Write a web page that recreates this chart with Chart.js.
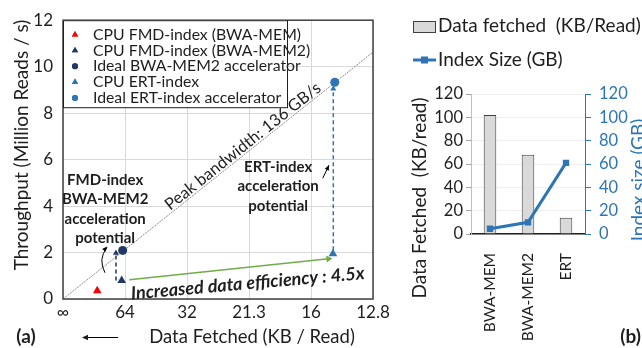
<!DOCTYPE html>
<html>
<head>
<meta charset="utf-8">
<script src="https://cdn.jsdelivr.net/npm/chart.js@4.4.1/dist/chart.umd.min.js"></script>
<style>
html, body { margin: 0; padding: 0; background: #fff; overflow: hidden; width: 642px; height: 348px; }
#wrapA { position: absolute; left: 0; top: 0; width: 400px; height: 348px; }
#wrapB { position: absolute; left: 400px; top: 0; width: 260px; height: 348px; }
</style>
</head>
<body>
<div id="wrapA"><canvas id="chartA"></canvas></div>
<div id="wrapB"><canvas id="chartB"></canvas></div>
<script>
const FONT = 'Lato, "Open Sans", sans-serif';
const TEXT = '#1e1e1e';
const BLUE = '#2E75B6';
const NAVY = '#1F3864';

// ---- panel (a) data ----
const xTickLabels = ['∞', '64', '32', '21.3', '16', '12.8'];   // KB / read, axis is 64/KB
const pointLabels = ['CPU FMD-index (BWA-MEM)', 'CPU FMD-index (BWA-MEM2)', 'Ideal BWA-MEM2 accelerator', 'CPU ERT-index', 'Ideal ERT-index accelerator'];
const pointKB = [116, 67.6, 66.5, 14.7, 14.6];
const pointThroughput = [0.35, 0.8, 2.09, 1.95, 9.33];
const pointColors = ['#FF0000', NAVY, NAVY, BLUE, BLUE];
const pointShapes = ['triangle', 'triangle', 'circle', 'triangle', 'circle'];

const peakKB = [Infinity, 12.8];
const peakThroughput = [0, 10.625];
const fmdArrowKB = [74.9, 74.9];
const fmdArrowThroughput = [0.8, 1.98];
const ertArrowKB = [14.68, 14.68];
const ertArrowThroughput = [2.1, 9.05];
const effArrowKB = [59.8, 14.95];
const effArrowThroughput = [0.83, 1.73];

// ---- panel (b) data ----
const bCategories = ['BWA-MEM', 'BWA-MEM2', 'ERT'];
const bFetched = [102, 68, 14];
const bIndexSize = [4.5, 10, 61];

const kbToX = kb => 64 / kb;
const toPoints = (kbs, ys) => kbs.map((kb, i) => ({ x: kbToX(kb), y: ys[i] }));

function arrowHead(ctx, x, y, angle, size) {
  ctx.save();
  ctx.translate(x, y);
  ctx.rotate(angle);
  ctx.beginPath();
  ctx.moveTo(0, 0);
  ctx.lineTo(-size, -size * 0.45);
  ctx.lineTo(-size, size * 0.45);
  ctx.closePath();
  ctx.fill();
  ctx.restore();
}

const panelA = {
  id: 'panelA',
  afterDatasetsDraw(chart) {
    const { ctx, chartArea: a, scales: { x, y } } = chart;
    const px = v => x.getPixelForValue(v);
    const py = v => y.getPixelForValue(v);
    ctx.save();

    // frame
    ctx.strokeStyle = '#404040';
    ctx.lineWidth = 1.5;
    ctx.strokeRect(a.left, a.top, a.right - a.left, a.bottom - a.top);

    // legend
    const lw = 224, lh = 87;
    ctx.fillStyle = '#fff';
    ctx.fillRect(a.left, a.top, lw, lh);
    ctx.strokeStyle = '#1e1e1e';
    ctx.lineWidth = 1;
    ctx.strokeRect(a.left + 0.5, a.top + 0.5, lw, lh);
    ctx.font = '15.8px ' + FONT;
    ctx.textBaseline = 'middle';
    ctx.textAlign = 'left';
    pointLabels.forEach((label, i) => {
      const ly = a.top + 14.5 + i * 15.8;
      ctx.fillStyle = pointColors[i];
      Chart.helpers.drawPoint(ctx, { pointStyle: pointShapes[i], radius: pointShapes[i] === 'circle' ? 3 : 3.6, borderWidth: 0 }, a.left + 12, ly);
      ctx.fill();
      ctx.fillStyle = TEXT;
      ctx.fillText(label, a.left + 30, ly);
    });

    // peak bandwidth label along the line
    const ang = Math.atan2(py(peakThroughput[1]) - py(0), px(kbToX(peakKB[1])) - px(0));
    ctx.save();
    ctx.translate(px(2.9), py(6.57));
    ctx.rotate(ang);
    ctx.font = '16.5px ' + FONT;
    ctx.textAlign = 'center';
    ctx.fillStyle = TEXT;
    ctx.fillText('Peak bandwidth: 136 GB/s', 0, 0);
    ctx.restore();

    // bold notes
    ctx.font = 'bold 15px ' + FONT;
    ctx.textAlign = 'center';
    ctx.fillStyle = TEXT;
    ['FMD-index', 'BWA-MEM2', 'acceleration', 'potential'].forEach((t, i) => {
      ctx.fillText(t, px(0.68), py(5.2) + 2 + i * 19.3);
    });
    ['ERT-index', 'acceleration', 'potential'].forEach((t, i) => {
      ctx.fillText(t, px(3.47), py(5.72) + 1 + i * 19.5);
    });

    ctx.save();
    ctx.translate(px(2.98), py(0.67));
    ctx.rotate(-5 * Math.PI / 180);
    ctx.font = 'italic bold 18px ' + FONT;
    ctx.fillText('Increased data efficiency : 4.5x', 0, 0);
    ctx.restore();

    // small black arrows
    ctx.strokeStyle = '#000';
    ctx.fillStyle = '#000';
    ctx.lineWidth = 1;
    const c0 = [px(0.677), py(1.13)], c1 = [px(0.56), py(1.72)], c2 = [px(0.71), py(2.22)];
    ctx.beginPath();
    ctx.moveTo(c0[0], c0[1]);
    ctx.quadraticCurveTo(c1[0], c1[1], c2[0], c2[1]);
    ctx.stroke();
    arrowHead(ctx, c2[0], c2[1] - 1, Math.atan2(c2[1] - c1[1], c2[0] - c1[0]), 5);
    const e0 = [px(4.19), py(5.2)], e1 = [px(4.29), py(5.76)];
    ctx.beginPath();
    ctx.moveTo(e0[0], e0[1]);
    ctx.lineTo(e1[0], e1[1]);
    ctx.stroke();
    arrowHead(ctx, e1[0], e1[1], Math.atan2(e1[1] - e0[1], e1[0] - e0[0]), 5);

    // axis titles and panel tag
    ctx.fillStyle = TEXT;
    ctx.font = '19px ' + FONT;
    ctx.save();
    ctx.translate(22, 145);
    ctx.rotate(-Math.PI / 2);
    ctx.fillText('Throughput (Million Reads / s)', 0, 0);
    ctx.restore();
    ctx.font = '18.5px ' + FONT;
    ctx.fillText('Data Fetched (KB / Read)', 252, 337);
    ctx.font = 'bold 19px ' + FONT;
    ctx.fillText('(a)', 26, 337);
    ctx.beginPath();
    ctx.moveTo(118, 337.5);
    ctx.lineTo(86, 337.5);
    ctx.stroke();
    arrowHead(ctx, 82, 337.5, Math.PI, 6);
    ctx.restore();
  }
};

const pointDatasets = pointLabels.map((label, i) => ({
  label,
  data: [{ x: kbToX(pointKB[i]), y: pointThroughput[i] }],
  pointStyle: pointShapes[i],
  pointRadius: pointShapes[i] === 'circle' ? 4.5 : 5,
  pointBackgroundColor: pointColors[i],
  pointBorderWidth: 0,
  showLine: false
}));

const lineDataset = (data, color, width, dash, extra) => Object.assign({
  data, showLine: true, borderColor: color, borderWidth: width, borderDash: dash,
  pointRadius: 0, pointBackgroundColor: color, pointBorderWidth: 0
}, extra || {});

new Chart(document.getElementById('chartA'), {
  type: 'scatter',
  data: {
    datasets: [
      ...pointDatasets,
      lineDataset(toPoints(fmdArrowKB, fmdArrowThroughput), NAVY, 1.5, [4, 3], { pointStyle: 'triangle', pointRadius: [0, 3.5] }),
      lineDataset(toPoints(ertArrowKB, ertArrowThroughput), BLUE, 1.5, [4, 3], { pointStyle: 'triangle', pointRadius: [0, 3.5] }),
      lineDataset(toPoints(effArrowKB, effArrowThroughput), '#70AD47', 1.5, [], { pointStyle: 'triangle', pointRadius: [0, 4], rotation: 84 }),
      lineDataset(toPoints(peakKB, peakThroughput), '#8c8c8c', 1, [2, 1])
    ]
  },
  options: {
    animation: false,
    responsive: true,
    maintainAspectRatio: false,
    devicePixelRatio: 1,
    layout: { padding: { left: 0, right: 27, top: 13, bottom: 0 } },
    plugins: { legend: { display: false }, tooltip: { enabled: false } },
    scales: {
      x: {
        type: 'linear', min: 0, max: 5,
        afterFit: s => { s.height = 49; },
        afterBuildTicks: s => { s.ticks = xTickLabels.map((_, i) => ({ value: i })); },
        ticks: { callback: v => xTickLabels[v], font: { family: FONT, size: 17 }, color: TEXT, padding: 3, maxRotation: 0, autoSkip: false },
        grid: { color: '#d9d9d9', drawTicks: false },
        border: { display: false }
      },
      y: {
        min: 0, max: 12,
        afterFit: s => { s.width = 63; },
        ticks: { stepSize: 2, font: { family: FONT, size: 17 }, color: TEXT, padding: 10 },
        grid: { color: '#d9d9d9', drawTicks: false },
        border: { display: false }
      }
    }
  },
  plugins: [panelA]
});

const panelB = {
  id: 'panelB',
  afterDraw(chart) {
    const { ctx } = chart;
    ctx.save();
    ctx.textBaseline = 'middle';
    ctx.textAlign = 'left';
    ctx.font = '19px ' + FONT;
    // legend
    ctx.fillStyle = '#d9d9d9';
    ctx.fillRect(13, 21, 22, 11);
    ctx.strokeStyle = '#404040';
    ctx.lineWidth = 1;
    ctx.strokeRect(13.5, 21.5, 22, 11);
    ctx.fillStyle = TEXT;
    ctx.fillText(chart.data.datasets[1].label, 38, 26);
    ctx.strokeStyle = BLUE;
    ctx.lineWidth = 3;
    ctx.beginPath();
    ctx.moveTo(13, 60);
    ctx.lineTo(36, 60);
    ctx.stroke();
    ctx.fillStyle = BLUE;
    ctx.fillRect(21, 56.5, 7, 7);
    ctx.fillStyle = TEXT;
    ctx.fillText(chart.data.datasets[0].label, 38, 60);
    // axis titles
    ctx.textAlign = 'center';
    ctx.font = '19px ' + FONT;
    ctx.save();
    ctx.translate(20, 198);
    ctx.rotate(-Math.PI / 2);
    ctx.fillText('Data Fetched  (KB/read)', 0, 0);
    ctx.restore();
    ctx.save();
    ctx.translate(239, 180);
    ctx.rotate(-Math.PI / 2);
    ctx.fillStyle = BLUE;
    ctx.fillText('Index size (GB)', 0, 0);
    ctx.restore();
    ctx.font = 'bold 19px ' + FONT;
    ctx.textAlign = 'right';
    ctx.fillStyle = TEXT;
    ctx.fillText('(b)', 241, 337);
    ctx.restore();
  }
};

new Chart(document.getElementById('chartB'), {
  data: {
    labels: bCategories,
    datasets: [
      {
        type: 'line', label: 'Index Size (GB)', data: bIndexSize, yAxisID: 'y2',
        borderColor: BLUE, borderWidth: 3, pointStyle: 'rect', pointRadius: 4.5,
        pointBackgroundColor: BLUE, pointBorderWidth: 0
      },
      {
        type: 'bar', label: 'Data fetched  (KB/Read)', data: bFetched, yAxisID: 'y',
        backgroundColor: '#d9d9d9', borderColor: '#404040', borderWidth: 1,
        barPercentage: 0.33, categoryPercentage: 1
      }
    ]
  },
  options: {
    animation: false,
    responsive: true,
    maintainAspectRatio: false,
    devicePixelRatio: 1,
    layout: { padding: { left: 0, right: 0, top: 94, bottom: 0 } },
    plugins: { legend: { display: false }, tooltip: { enabled: false } },
    scales: {
      x: {
        afterFit: s => { s.height = 114; },
        ticks: { minRotation: 90, maxRotation: 90, padding: 11, font: { family: FONT, size: 15.5 }, color: TEXT },
        grid: { display: false },
        border: { color: '#1e1e1e', width: 1.5 }
      },
      y: {
        position: 'left', min: 0, max: 120,
        afterFit: s => { s.width = 71; },
        ticks: { stepSize: 20, padding: 3, font: { family: FONT, size: 16.5 }, color: TEXT },
        grid: { color: '#efefef', tickColor: '#a6a6a6', tickLength: 5 },
        border: { color: '#bfbfbf', width: 1 }
      },
      y2: {
        position: 'right', min: 0, max: 120,
        afterFit: s => { s.width = 75; },
        ticks: { stepSize: 20, padding: 8, font: { family: FONT, size: 16.5 }, color: BLUE },
        grid: { drawOnChartArea: false, color: BLUE, tickLength: 6 },
        border: { color: BLUE, width: 1 }
      }
    }
  },
  plugins: [panelB]
});
</script>
</body>
</html>
